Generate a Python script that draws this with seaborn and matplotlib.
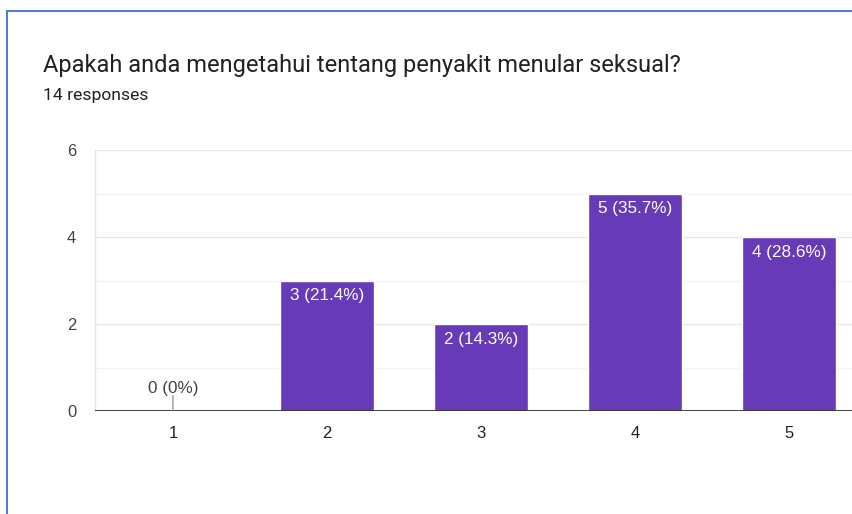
import matplotlib
matplotlib.use("Agg")
import matplotlib.pyplot as plt
import matplotlib.patches as mpatches
import seaborn as sns
import pandas as pd

# Survey answers (scale 1-5) and the number of respondents per answer
categories = ["1", "2", "3", "4", "5"]
counts = [0, 3, 2, 5, 4]
total_responses = 14
title = "Apakah anda mengetahui tentang penyakit menular seksual?"
subtitle = f"{total_responses} responses"
y_ticks = [0, 2, 4, 6]

df = pd.DataFrame({"answer": categories, "count": counts})

sns.set_theme(style="white")
plt.rcParams["font.family"] = ["Roboto", "DejaVu Sans"]
chart_font = ["Liberation Sans", "DejaVu Sans"]

W, H = 853, 514
fig = plt.figure(figsize=(W / 100, H / 100), dpi=100)
fig.patch.set_facecolor("white")

# Card outline
fig.patches.append(mpatches.Rectangle((7.5 / W, -0.1), 2.0, (H - 10.5) / H + 0.1,
                                      transform=fig.transFigure, fill=False,
                                      edgecolor="#4a7bd0", linewidth=1.4))

fig.text(43 / W, 1 - 72 / H, title, fontsize=17, color="#202124", va="baseline")
fig.text(43 / W, 1 - 100 / H, subtitle, fontsize=12.6, color="#202124", va="baseline")

left, right, top, bottom = 95, 853, 150, 411
ax = fig.add_axes([left / W, 1 - bottom / H, (right - left) / W, (bottom - top) / H])

purple = "#673ab7"
sns.barplot(data=df, x="answer", y="count", color=purple, width=0.61,
            saturation=1, ax=ax, zorder=3)

ax.set_ylim(0, 6)
ax.set_xlim(-0.506, (right - 173) / 154)

# Gridlines: stronger at labelled values, faint in between
for v in range(1, 7):
    ax.axhline(v, color="#e6e6e6" if v % 2 == 0 else "#f3f3f3", lw=1.0, zorder=1)
ax.axhline(0, color="#333333", lw=1.3, zorder=4)

for s in ["top", "right", "bottom"]:
    ax.spines[s].set_visible(False)
ax.spines["left"].set_color("#e6e6e6")
ax.spines["left"].set_linewidth(1.0)

ax.set_yticks(y_ticks)
ax.set_yticklabels([str(t) for t in y_ticks], family=chart_font)
ax.set_xticklabels(categories, family=chart_font)
ax.tick_params(axis="y", length=0, pad=13.5, labelsize=12, labelcolor="#444444")
ax.tick_params(axis="x", length=0, pad=11, labelsize=12, labelcolor="#222222")
ax.set_xlabel("")
ax.set_ylabel("")


def fmt(c):
    p = round(c / total_responses * 100, 1)
    ps = f"{p:.1f}".rstrip("0").rstrip(".")
    return f"{c} ({ps}%)"


for i, c in enumerate(counts):
    if c == 0:
        # Empty bar: label lifted above the baseline with a short leader line
        ax.annotate(fmt(c), xy=(i, 0), xytext=(0, 11), textcoords="offset points",
                    ha="center", va="bottom", fontsize=12.3, color="#444444",
                    family=chart_font,
                    arrowprops=dict(arrowstyle="-", color="#999999", lw=1.0,
                                    shrinkA=0, shrinkB=0, patchA=None,
                                    relpos=(0.5, 0.0)), zorder=5)
    else:
        ax.annotate(fmt(c), xy=(i, c), xytext=(0, -5.5), textcoords="offset points",
                    ha="center", va="top", fontsize=12.3, color="white",
                    family=chart_font, zorder=5)

fig.savefig("out.png", dpi=100, facecolor="white")
